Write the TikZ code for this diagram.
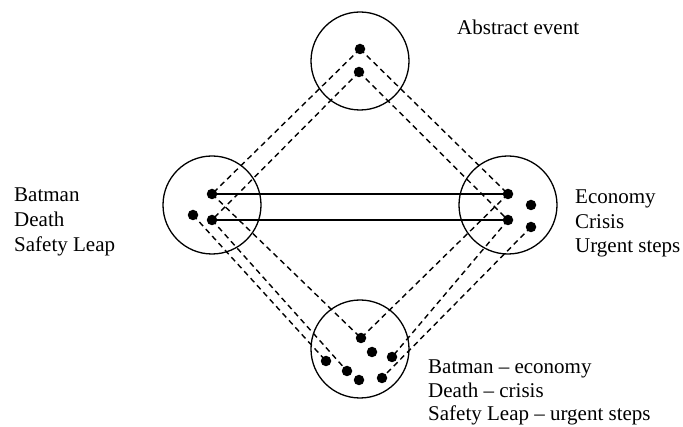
\documentclass[tikz,border=0pt]{standalone}
\usepackage{fontspec}
\setmainfont{Liberation Serif}
\begin{document}
\begin{tikzpicture}[x=1pt,y=-1pt,
  ring/.style={draw,circle,line width=1.3pt,minimum size=98pt,inner sep=0pt},
  dot/.style={fill,circle,minimum size=10.5pt,inner sep=0pt},
  dashline/.style={line width=1.4pt,dash pattern=on 5.5pt off 4pt},
  solidline/.style={line width=1.7pt},
  lab/.style={anchor=base west,inner sep=0pt,font=\fontsize{21}{25}\selectfont}]
\useasboundingbox (0,0) rectangle (683,427);
\fill[white] (0,0) rectangle (683,427);
% circles
\node[ring] (ct) at (360,61) {};
\node[ring] (cl) at (212,205) {};
\node[ring] (cr) at (508,205) {};
\node[ring] (cb) at (360,349) {};
% dots
\node[dot] (t1) at (360,49) {};
\node[dot] (t2) at (359,72) {};
\node[dot] (l1) at (212,194) {};
\node[dot] (l2) at (193,215) {};
\node[dot] (l3) at (212,220) {};
\node[dot] (r1) at (508,194) {};
\node[dot] (r2) at (531,205) {};
\node[dot] (r3) at (508,220) {};
\node[dot] (r4) at (531,227) {};
\node[dot] (b1) at (361,338) {};
\node[dot] (b2) at (372,352) {};
\node[dot] (b3) at (392,357) {};
\node[dot] (b4) at (326,361) {};
\node[dot] (b5) at (347,371) {};
\node[dot] (b6) at (359,380) {};
\node[dot] (b7) at (382,378) {};
% solid connectors
\draw[solidline] (l1.center) -- (r1.center);
\draw[solidline] (l3.center) -- (r3.center);
% dashed connectors
\draw[dashline] (t1.center) -- (l1.center);
\draw[dashline] (t2.center) -- (l3.center);
\draw[dashline] (t1.center) -- (r1.center);
\draw[dashline] (t2.center) -- (r3.center);
\draw[dashline] (l1.center) -- (b1.center);
\draw[dashline] (l2.center) -- (b4.center);
\draw[dashline] (l3.center) -- (b5.center);
\draw[dashline] (r1.center) -- (b1.center);
\draw[dashline] (r3.center) -- (b3.center);
\draw[dashline] (r4.center) -- (b7.center);
% labels
\node[lab] (abs) at (457,35) {Abstract event};
\node[lab] (la) at (14,202) {Batman};
\node[lab] (lb) at (14,227) {Death};
\node[lab] (lc) at (14,252) {Safety Leap};
\node[lab] (ra) at (575,204) {Economy};
\node[lab] (rb) at (575,229) {Crisis};
\node[lab] (rc) at (575,253) {Urgent steps};
\node[lab] (ba) at (428,374) {Batman -- economy};
\node[lab] (bb) at (428,398) {Death -- crisis};
\node[lab] (bc) at (428,421) {Safety Leap -- urgent steps};
\end{tikzpicture}
\end{document}
